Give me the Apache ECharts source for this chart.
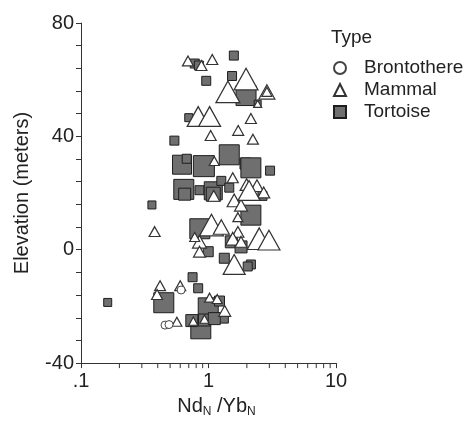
<!DOCTYPE html>
<html>
<head>
<meta charset="utf-8">
<script src="https://cdn.jsdelivr.net/npm/echarts@6/dist/echarts.min.js"></script>
<style>
  html, body { margin: 0; padding: 0; background: #fff; }
  #chart { width: 470px; height: 423px; }
</style>
</head>
<body>
<div id="chart"></div>
<script>
// [Nd/Yb, elevation, symbol size]
const brontothere = [
  [0.456, -26.6, 8], [0.49, -26.4, 8], [0.61, -14.2, 8]
]
const mammal = [
  [0.69, 66.6, 11], [0.88, 65.0, 11], [1.07, 67.1, 11],
  [1.97, 60.2, 24], [1.42, 55.7, 24], [2.87, 55.7, 16], [2.87, 55.7, 10], [2.43, 51.5, 8],
  [0.83, 47.0, 22], [1.02, 47.0, 22], [2.15, 46.3, 11],
  [1.04, 40.3, 11], [1.71, 42.1, 11], [2.23, 39.0, 11],
  [1.11, 31.3, 10], [1.55, 25.4, 11], [1.99, 23.0, 13], [2.40, 22.6, 13], [2.71, 20.2, 12],
  [1.59, 17.4, 14], [1.80, 15.7, 13], [1.70, 11.5, 10], [2.08, 20.9, 22], [1.10, 19.0, 12],
  [1.055, 8.7, 24], [1.26, 8.0, 16], [1.70, 6.3, 12], [1.55, 3.9, 14], [1.80, 2.8, 12],
  [2.50, 3.9, 24], [2.98, 3.4, 22], [0.85, 2.8, 14], [0.85, -0.7, 12], [0.78, 4.5, 10],
  [1.59, -5.2, 22], [0.378, 6.4, 11],
  [0.417, -12.7, 11], [0.395, -15.8, 11], [0.60, -12.7, 11], [1.02, -16.9, 10], [1.17, -17.4, 10],
  [1.34, -21.6, 12], [0.565, -25.4, 10], [0.76, -25.2, 9], [0.93, -24.5, 9]
]
const tortoise = [
  [0.78, 65.7, 9], [0.84, 65.0, 9], [1.58, 68.5, 9], [1.53, 61.3, 9], [0.96, 59.6, 9],
  [1.97, 54.4, 20], [2.43, 51.5, 7], [0.70, 46.6, 8], [0.54, 38.5, 9],
  [0.62, 30.0, 19], [0.675, 32.1, 9], [0.92, 29.5, 21], [1.455, 33.5, 20], [1.95, 30.4, 11],
  [2.15, 28.9, 20], [3.04, 27.9, 9], [0.64, 21.3, 20], [0.85, 21.0, 9], [1.09, 20.8, 18],
  [1.26, 24.3, 9], [1.455, 21.9, 9], [2.65, 19.0, 9], [0.65, 19.6, 12], [1.09, 19.6, 14],
  [0.36, 15.8, 8], [2.15, 12.2, 20], [0.855, 7.4, 20], [1.51, 2.8, 12], [1.80, 1.0, 12],
  [0.995, -0.7, 10], [1.33, -3.0, 10], [2.15, -5.2, 9], [2.03, -5.9, 9],
  [0.162, -18.6, 8], [0.75, -9.7, 9], [0.83, -13.6, 9], [0.446, -18.7, 20], [0.995, -20.5, 20],
  [1.22, -18.1, 10], [1.32, -24.3, 9], [0.87, -27.9, 20], [0.74, -25.0, 12], [0.93, -24.8, 12],
  [1.11, -24.3, 12]
]
const xMinorTicks = [0.2, 0.3, 0.4, 0.5, 0.6, 0.7, 0.8, 0.9, 2, 3, 4, 5, 6, 7, 8, 9]
const typeNames = ['Brontothere', 'Mammal', 'Tortoise']

const axisColor = '#333'
const textColor = '#222'
const font = 'Liberation Sans, Arial, sans-serif'

const chart = echarts.init(document.getElementById('chart'))
chart.setOption({
  animation: false,
  textStyle: { fontFamily: font },
  title: {
    text: 'Type', left: 326, top: 23,
    textStyle: { fontSize: 19, lineHeight: 20, fontWeight: 'normal', color: textColor, fontFamily: font }
  },
  legend: {
    data: typeNames,
    orient: 'vertical',
    left: 328, top: 53,
    itemWidth: 12, itemHeight: 12, itemGap: 2,
    textStyle: { fontSize: 19, lineHeight: 20, color: textColor, fontFamily: font, padding: [0, 0, 0, 13] }
  },
  grid: { left: 81, right: 134, top: 23, bottom: 53 },
  xAxis: {
    type: 'log', logBase: 10, min: 0.1, max: 10,
    name: '{a|Nd}{s|N}{a| /Yb}{s|N}',
    nameLocation: 'middle', nameGap: 30,
    nameTextStyle: {
      padding: [0, 0, 0, 16],
      rich: {
        a: { fontSize: 20, color: textColor, fontFamily: font },
        s: { fontSize: 12, color: textColor, fontFamily: font, padding: [12, 0, 0, 0] }
      }
    },
    axisLine: { onZero: false, lineStyle: { color: axisColor } },
    axisTick: { length: 5, lineStyle: { color: axisColor } },
    axisLabel: {
      fontSize: 20, color: textColor, margin: 8,
      formatter: v => (Math.abs(v - 0.1) < 1e-6 ? '.1' : String(Math.round(v)))
    },
    splitLine: { show: false }
  },
  yAxis: {
    type: 'value', min: -40, max: 80, interval: 40,
    name: 'Elevation (meters)', nameLocation: 'middle', nameGap: 49,
    nameTextStyle: { fontSize: 20, color: textColor },
    axisLine: { show: true, lineStyle: { color: axisColor } },
    axisTick: { show: true, length: 5, lineStyle: { color: axisColor } },
    minorTick: { show: true, splitNumber: 5, length: 5, lineStyle: { color: axisColor } },
    axisLabel: { fontSize: 20, color: textColor, margin: 7 },
    splitLine: { show: false }
  },
  series: [
    {
      name: 'Tortoise', type: 'scatter', symbol: 'rect',
      symbolSize: v => v[2],
      itemStyle: { color: '#6f6f6f', borderColor: '#1e1e1e', borderWidth: 1, opacity: 1 },
      data: tortoise
    },
    {
      name: 'Mammal', type: 'scatter', symbol: 'triangle',
      symbolSize: v => [v[2], v[2] * 0.9],
      itemStyle: { color: '#fff', borderColor: '#333', borderWidth: 1.2, opacity: 1 },
      data: mammal
    },
    {
      name: 'Brontothere', type: 'scatter', symbol: 'circle',
      symbolSize: v => v[2],
      itemStyle: { color: '#fff', borderColor: '#444', borderWidth: 1, opacity: 1 },
      data: brontothere
    },
    {
      type: 'custom', silent: true, clip: false,
      data: xMinorTicks.map(v => [v, -40]),
      renderItem: (params, api) => {
        const p = api.coord([api.value(0), api.value(1)])
        return {
          type: 'line',
          shape: { x1: p[0], y1: p[1], x2: p[0], y2: p[1] + 5 },
          style: { stroke: axisColor, lineWidth: 1 }
        }
      }
    }
  ]
})
</script>
</body>
</html>
